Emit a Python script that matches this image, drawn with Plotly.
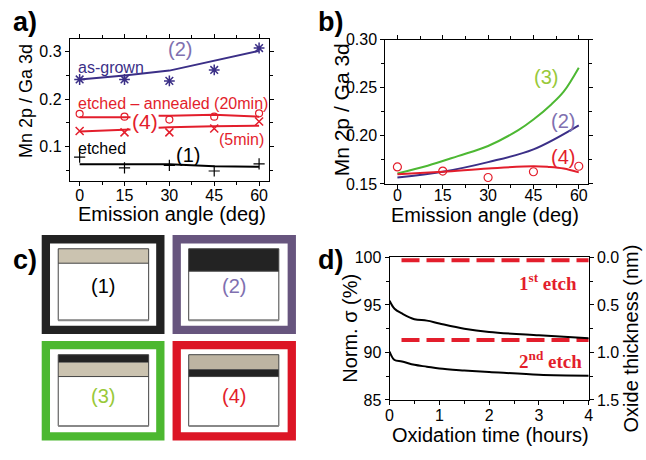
import plotly.graph_objects as go

W, H = 646, 460
FONT = "Liberation Sans"

# ---------------- data ----------------
# panel a
angles = [0, 15, 30, 45, 60]
asgrown_pts = [0.241, 0.241, 0.238, 0.261, 0.307]
asgrown_fit = [0.241, 0.2495, 0.2596, 0.280, 0.301]
ann20_pts = [0.169, 0.163, 0.157, 0.163, 0.170]
ann20_fit_x = [0, 15, 17, None, 26.4, 30, 45, 60]
ann20_fit_y = [0.162, 0.162, 0.162, None, 0.165, 0.165, 0.167, 0.163]
ann5_pts = [0.133, 0.130, 0.130, 0.138, 0.153]
ann5_fit_x = [0, 15, 17, None, 26.4, 30, 45, 60]
ann5_fit_y = [0.132, 0.135, 0.136, None, 0.140, 0.141, 0.143, 0.144]
etched_pts = [0.078, 0.0556, 0.061, 0.049, 0.064]
etched_fit = [0.063, 0.063, 0.063, 0.059, 0.058]

# panel b
b_green_x = [0, 10, 20, 30, 40, 45, 51, 55, 60]
b_green_y = [0.161, 0.169, 0.179, 0.1895, 0.206, 0.217, 0.233, 0.246, 0.271]
b_purple_x = [0, 15, 30, 45, 60]
b_purple_y = [0.1567, 0.1627, 0.1727, 0.186, 0.211]
b_red_x = [0, 15, 30, 45, 50, 55, 60]
b_red_y = [0.160, 0.1627, 0.166, 0.1684, 0.1677, 0.166, 0.162]
b_red_pts = [0.1677, 0.1634, 0.1567, 0.1627, 0.1684]

# panel d
t_hours = [0, 0.1, 0.25, 0.5, 0.75, 1, 1.5, 2, 3, 4]
sigma_1 = [95.44, 94.6, 94.1, 93.5, 93.35, 93.05, 92.5, 92.15, 91.8, 91.5]
sigma_2 = [90.1, 89.2, 89.05, 88.7, 88.5, 88.3, 88.1, 87.95, 87.65, 87.55]
etch_x = [0.24, 4]
etch1 = [99.7, 99.7]
etch2 = [91.3, 91.3]

PURPLE = "#3b2f87"
LPURPLE = "#8070b0"
RED = "#e31e2c"
GREEN = "#4db833"
LGREEN = "#99c93a"


def px(x):
    return x / W


def py(y):
    return 1 - y / H


fig = go.Figure()

# ---- panel a ----
fig.add_trace(go.Scatter(x=angles, y=asgrown_fit, mode="lines", line=dict(color=PURPLE, width=2),
                         xaxis="x", yaxis="y"))
fig.add_trace(go.Scatter(x=angles, y=asgrown_pts, mode="markers",
                         marker=dict(symbol="asterisk-open", size=9, color=PURPLE, line=dict(color=PURPLE, width=1.5)),
                         xaxis="x", yaxis="y"))
fig.add_trace(go.Scatter(x=ann20_fit_x, y=ann20_fit_y, mode="lines", line=dict(color=RED, width=2),
                         connectgaps=False, xaxis="x", yaxis="y"))
fig.add_trace(go.Scatter(x=angles, y=ann20_pts, mode="markers",
                         marker=dict(symbol="circle-open", size=7, color=RED, line=dict(color=RED, width=1.2)),
                         xaxis="x", yaxis="y"))
fig.add_trace(go.Scatter(x=ann5_fit_x, y=ann5_fit_y, mode="lines", line=dict(color=RED, width=2),
                         connectgaps=False, xaxis="x", yaxis="y"))
fig.add_trace(go.Scatter(x=angles, y=ann5_pts, mode="markers",
                         marker=dict(symbol="x-thin-open", size=8, color=RED, line=dict(color=RED, width=1.5)),
                         xaxis="x", yaxis="y"))
fig.add_trace(go.Scatter(x=angles, y=etched_fit, mode="lines", line=dict(color="black", width=2),
                         xaxis="x", yaxis="y"))
fig.add_trace(go.Scatter(x=angles, y=etched_pts, mode="markers",
                         marker=dict(symbol="cross-thin-open", size=8, color="black", line=dict(color="black", width=1.2)),
                         xaxis="x", yaxis="y"))

# ---- panel b ----
fig.add_trace(go.Scatter(x=b_green_x, y=b_green_y, mode="lines", line=dict(color=GREEN, width=2, shape="spline"),
                         xaxis="x2", yaxis="y2"))
fig.add_trace(go.Scatter(x=b_purple_x, y=b_purple_y, mode="lines", line=dict(color=PURPLE, width=2, shape="spline"),
                         xaxis="x2", yaxis="y2"))
fig.add_trace(go.Scatter(x=b_red_x, y=b_red_y, mode="lines", line=dict(color=RED, width=2, shape="spline"),
                         xaxis="x2", yaxis="y2"))
fig.add_trace(go.Scatter(x=angles, y=b_red_pts, mode="markers",
                         marker=dict(symbol="circle-open", size=8, color=RED, line=dict(color=RED, width=1.2)),
                         xaxis="x2", yaxis="y2"))

# ---- panel d ----
fig.add_trace(go.Scatter(x=etch_x, y=etch1, mode="lines", line=dict(color=RED, width=4, dash="18px,7px"),
                         xaxis="x3", yaxis="y3"))
fig.add_trace(go.Scatter(x=etch_x, y=etch2, mode="lines", line=dict(color=RED, width=4, dash="18px,7px"),
                         xaxis="x3", yaxis="y3"))
fig.add_trace(go.Scatter(x=t_hours, y=sigma_1, mode="lines", line=dict(color="black", width=2, shape="spline"),
                         xaxis="x3", yaxis="y3"))
fig.add_trace(go.Scatter(x=t_hours, y=sigma_2, mode="lines", line=dict(color="black", width=2, shape="spline"),
                         xaxis="x3", yaxis="y3"))

tickfont = dict(family=FONT, size=16, color="black")
common = dict(showline=True, linecolor="black", linewidth=1, ticks="outside", ticklen=4, tickwidth=1,
              tickcolor="black", tickfont=tickfont, showgrid=False, zeroline=False)

fig.update_layout(
    width=W, height=H, margin=dict(l=0, r=0, t=0, b=0),
    paper_bgcolor="white", plot_bgcolor="white", showlegend=False,
    xaxis=dict(domain=[px(66.7), px(268.7)], range=[-3.3, 63.3], tickvals=angles, anchor="y", mirror="allticks",
               ticklabelstandoff=-5,
               minor=dict(dtick=7.5, tick0=0, ticks="outside", ticklen=3, tickcolor="black"), **common),
    yaxis=dict(domain=[py(180), py(32.3)], range=[0.0273, 0.3257], tickvals=[0.1, 0.2, 0.3], anchor="x",
               mirror="allticks", minor=dict(dtick=0.05, tick0=0, ticks="outside", ticklen=3, tickcolor="black"),
               **common),
    xaxis2=dict(domain=[px(386.7), px(592.7)], range=[-4, 63.2], tickvals=angles, anchor="y2", mirror="allticks",
                ticklabelstandoff=-7,
                minor=dict(dtick=7.5, tick0=0, ticks="outside", ticklen=3, tickcolor="black"), **common),
    yaxis2=dict(domain=[py(182.7), py(33)], range=[0.15, 0.30], tickvals=[0.15, 0.20, 0.25, 0.30],
                tickformat=".2f", anchor="x2", mirror="allticks",
                minor=dict(dtick=0.025, tick0=0, ticks="outside", ticklen=3, tickcolor="black"), **common),
    xaxis3=dict(domain=[px(391), px(593)], range=[0, 4], dtick=1, anchor="y3", mirror=True,
                ticklabelstandoff=-3,
                minor=dict(dtick=0.5, ticks="outside", ticklen=3, tickcolor="black"), **common),
    yaxis3=dict(domain=[py(407), py(259)], range=[85, 100], dtick=5, anchor="x3",
                minor=dict(dtick=2.5, ticks="outside", ticklen=3, tickcolor="black"), **common),
    yaxis4=dict(overlaying="y3", side="right", anchor="x3", range=[1.5, 0], tickvals=[0, 0.5, 1.0, 1.5],
                tickformat=".1f", minor=dict(dtick=0.25, ticks="outside", ticklen=3, tickcolor="black"), **common),
)
# invisible trace to activate the right-hand axis of panel d
fig.add_trace(go.Scatter(x=[0], y=[0], mode="markers", marker=dict(opacity=0), xaxis="x3", yaxis="y4",
                         showlegend=False, hoverinfo="skip"))

ann = []


def text(x, y, s, size=16, color="black", xanchor="center", angle=0, family=FONT, bold=False):
    if bold:
        s = "<b>" + s + "</b>"
    ann.append(dict(x=px(x), y=py(y), xref="paper", yref="paper", text=s, showarrow=False,
                    font=dict(family=family, size=size, color=color), xanchor=xanchor, yanchor="middle",
                    textangle=angle))


# panel letters
text(7, 15, "a)", 27, xanchor="left", bold=True)
text(316, 15, "b)", 27, xanchor="left", bold=True)
text(7, 262, "c)", 27, xanchor="left", bold=True)
text(316, 262, "d)", 27, xanchor="left", bold=True)

# axis titles
text(23, 97, "Mn 2p / Ga 3d", 18, angle=-90)
text(170, 214, "Emission angle (deg)", 20)
text(342, 106, "Mn 2p / Ga 3d", 21, angle=-90)
text(488, 215, "Emission angle (deg)", 20)
text(351, 333, "Norm. σ (%)", 20, angle=-90)
text(636, 343, "Oxide thickness (nm)", 20, angle=-90)
text(493, 443, "Oxidation time (hours)", 20)

# panel a labels
text(178, 43, "(2)", 20, LPURPLE)
text(73, 62, "as-grown", 16, PURPLE, xanchor="left")
text(73, 99, "etched – annealed (20min)", 16, RED, xanchor="left")
text(143, 118, "(4)", 21, RED)
text(266, 137, "(5min)", 16, RED, xanchor="right")
text(73, 146, "etched", 16, "black", xanchor="left")
text(187, 153, "(1)", 20, "black")

# panel b labels
text(550, 72, "(3)", 20, LGREEN)
text(567, 117, "(2)", 20, LPURPLE)
text(567, 155, "(4)", 20, RED)

# panel d labels
text(583, 285, "1<sup>st</sup> etch", 19, RED, xanchor="right", family="Liberation Serif", bold=True)
text(588, 365, "2<sup>nd</sup> etch", 19, RED, xanchor="right", family="Liberation Serif", bold=True)

# panel c labels
text(100, 289, "(1)", 20, "black")
text(233, 289, "(2)", 20, LPURPLE)
text(100, 403, "(3)", 20, LGREEN)
text(233, 403, "(4)", 20, RED)

fig.update_layout(annotations=ann)

# panel c shapes
shapes = []


def rect(x0, y0, x1, y1, fill=None, line_color=None, lw=0):
    shapes.append(dict(type="rect", xref="paper", yref="paper", x0=px(x0), x1=px(x1), y0=py(y1), y1=py(y0),
                       fillcolor=fill if fill else "rgba(0,0,0,0)",
                       line=dict(color=line_color if line_color else "rgba(0,0,0,0)", width=lw),
                       layer="above"))


BORD = 8.3
frames = [
    (38.3, 236, 162.7, 338.3, "#222222"),
    (171, 236, 296, 338.3, "#67557e"),
    (38.3, 346, 162.7, 449, "#4cb830"),
    (171, 346, 296, 449, "#dc1525"),
]
for x0, y0, x1, y1, c in frames:
    h = BORD / 2
    rect(x0 + h, y0 + h, x1 - h, y1 - h, None, c, BORD)

TAN = "#cbc3b0"
TAN2 = "#bdb4a2"
DARK = "#232323"
# box 1
rect(55, 250, 146.7, 265, TAN)
# box 2
rect(187.3, 250, 278.7, 273.3, DARK)
# box 3
rect(55, 360, 146.7, 368.3, DARK)
rect(55, 368.3, 146.7, 382.7, TAN)
# box 4
rect(187.3, 360, 278.7, 375, TAN2)
rect(187.3, 375, 278.7, 382.7, DARK)
# inner outlines
for x0, y0, x1, y1 in [(55, 250, 146.7, 324.3), (187.3, 250, 278.7, 324.3),
                       (55, 360, 146.7, 434), (187.3, 360, 278.7, 434)]:
    rect(x0, y0, x1, y1, None, "#444444", 1)
for x0, y0, x1, y1 in [(55, 265, 146.7, 265), (187.3, 273.3, 278.7, 273.3),
                       (55, 382.7, 146.7, 382.7), (187.3, 382.7, 278.7, 382.7)]:
    shapes.append(dict(type="line", xref="paper", yref="paper", x0=px(x0), x1=px(x1), y0=py(y0), y1=py(y1),
                       line=dict(color="#444444", width=1), layer="above"))
for x0, x1, y in [(55, 146.7, 324.3), (187.3, 278.7, 324.3), (55, 146.7, 434), (187.3, 278.7, 434)]:
    shapes.append(dict(type="line", xref="paper", yref="paper", x0=px(x0), x1=px(x1), y0=py(y), y1=py(y),
                       line=dict(color="#888888", width=2), layer="above"))

fig.update_layout(shapes=shapes)

fig.write_html("out.html", config={"displayModeBar": False},
               post_script="document.body.style.margin='0';")
